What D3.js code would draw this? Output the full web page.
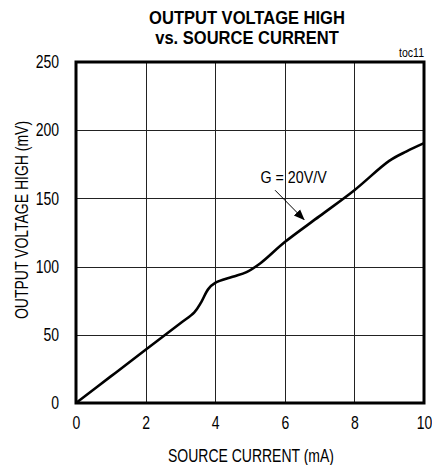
<!DOCTYPE html>
<html>
<head>
<meta charset="utf-8">
<script src="https://cdn.jsdelivr.net/npm/d3@7"></script>
<style>
  body { margin: 0; background: #fff; }
  text { font-family: "Liberation Sans", Arial, sans-serif; }
</style>
</head>
<body>
<div class="graph"></div>
<script>
// curve: source current (mA) vs output voltage high (mV)
var currentMA = [0, 1, 2, 3, 3.4, 3.6, 3.8, 4, 4.5, 4.9, 5.3, 6, 7, 8, 9, 9.5, 10];
var voltageMV = [0, 19.5, 39, 58.5, 66.5, 74, 83.5, 88, 92.5, 96, 102.5, 118, 137, 156, 177.5, 184.5, 190.5];

var xTicks = [0, 2, 4, 6, 8, 10];
var yTicks = [0, 50, 100, 150, 200, 250];

var titleLines = ["OUTPUT VOLTAGE HIGH", "vs. SOURCE CURRENT"];
var xLabel = "SOURCE CURRENT (mA)";
var yLabel = "OUTPUT VOLTAGE HIGH (mV)";
var gainLabel = "G = 20V/V";
var tocLabel = "toc11";

var margin = {top: 62, right: 8, bottom: 62, left: 76},
    width = 432 - margin.left - margin.right,
    height = 465 - margin.top - margin.bottom;

// the original uses a narrow font, fake it with a horizontal squeeze
var narrow = 0.8;

var x = d3.scaleLinear().domain([0, 10]).range([0, width]);
var y = d3.scaleLinear().domain([0, 250]).range([height, 0]);

var svg = d3.select("div.graph").append("svg")
    .attr("width", 432)
    .attr("height", 465);

svg.append("defs").append("marker")
    .attr("id", "arrow")
    .attr("viewBox", "0 0 10 10")
    .attr("refX", 9)
    .attr("refY", 5)
    .attr("markerWidth", 11)
    .attr("markerHeight", 11)
    .attr("markerUnits", "userSpaceOnUse")
    .attr("orient", "auto")
  .append("path")
    .attr("d", "M0,1 L10,5 L0,9 z")
    .attr("fill", "#000");

var addText = function(parent, px, py, txt, size, anchor, sx, rot) {
  return parent.append("text")
      .attr("transform", "translate(" + px + "," + py + ")" + (rot ? " rotate(" + rot + ")" : "") + " scale(" + sx + ",1)")
      .attr("text-anchor", anchor)
      .style("font-size", size + "px")
      .text(txt);
};

// title
titleLines.forEach(function(t, i) {
  addText(svg, 247, 24 + i * 20, t, 19, "middle", 0.87).style("font-weight", "bold");
});

var g = svg.append("g")
    .attr("transform", "translate(" + margin.left + "," + margin.top + ")");

// grid
g.append("g").selectAll("line")
    .data(xTicks.slice(1, -1))
    .enter().append("line")
    .attr("x1", function(d) { return Math.round(x(d)) + 0.5; })
    .attr("x2", function(d) { return Math.round(x(d)) + 0.5; })
    .attr("y1", 0)
    .attr("y2", height)
    .attr("stroke", "#222")
    .attr("stroke-width", 1);

g.append("g").selectAll("line")
    .data(yTicks.slice(1, -1))
    .enter().append("line")
    .attr("y1", function(d) { return Math.round(y(d)) + 0.5; })
    .attr("y2", function(d) { return Math.round(y(d)) + 0.5; })
    .attr("x1", 0)
    .attr("x2", width)
    .attr("stroke", "#222")
    .attr("stroke-width", 1);

// axes (labels only, frame drawn separately)
var xAxis = g.append("g")
    .attr("transform", "translate(0," + height + ")")
    .call(d3.axisBottom(x).tickValues(xTicks).tickSize(0).tickPadding(14));
var yAxis = g.append("g")
    .call(d3.axisLeft(y).tickValues(yTicks).tickSize(0));
[xAxis, yAxis].forEach(function(a) {
  a.select(".domain").remove();
  a.selectAll("text")
      .style("font-size", "17.5px")
      .attr("fill", "#000")
      .attr("transform", "scale(" + narrow + ",1)");
});
yAxis.selectAll("text").attr("x", -17 / narrow);

// curve
var line = d3.line()
    .x(function(d, i) { return x(currentMA[i]); })
    .y(function(d, i) { return y(voltageMV[i]); })
    .curve(d3.curveCatmullRom.alpha(0.5));

g.append("path")
    .datum(voltageMV)
    .attr("d", line)
    .attr("fill", "none")
    .attr("stroke", "#000")
    .attr("stroke-width", 2.6)
    .attr("stroke-linejoin", "round");

// frame
g.append("rect")
    .attr("x", 0)
    .attr("y", 0)
    .attr("width", width)
    .attr("height", height)
    .attr("fill", "none")
    .attr("stroke", "#000")
    .attr("stroke-width", 3);

// annotation
addText(g, x(5.3), y(161), gainLabel, 17, "start", 0.84);

g.append("line")
    .attr("x1", x(5.72))
    .attr("y1", y(156))
    .attr("x2", x(6.55))
    .attr("y2", y(134.5))
    .attr("stroke", "#000")
    .attr("stroke-width", 1)
    .attr("marker-end", "url(#arrow)");

addText(svg, 424, 57, tocLabel, 12, "end", 0.88);

// axis titles
addText(svg, margin.left + width / 2 + 1, 462, xLabel, 17.5, "middle", narrow);
addText(svg, 28, 220, yLabel, 17.5, "middle", narrow, -90);
</script>
</body>
</html>
